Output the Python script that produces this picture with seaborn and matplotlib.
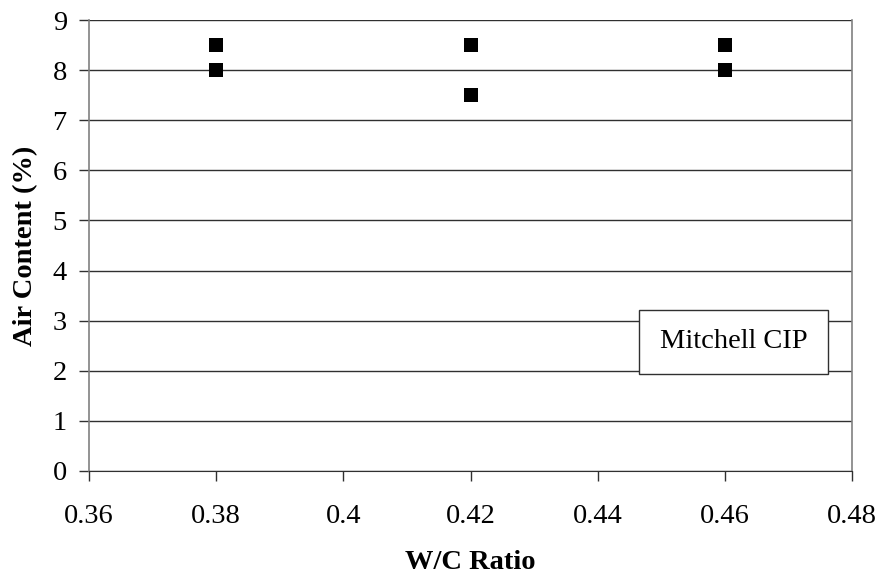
import matplotlib
matplotlib.use("Agg")
import matplotlib.pyplot as plt
from matplotlib.patches import Rectangle
import seaborn as sns
import pandas as pd

wc_ratio = [0.38, 0.38, 0.42, 0.42, 0.46, 0.46]
air_content = [8.5, 8.0, 8.5, 7.5, 8.5, 8.0]
x_ticks = [0.36, 0.38, 0.40, 0.42, 0.44, 0.46, 0.48]
x_tick_labels = ["0.36", "0.38", "0.4", "0.42", "0.44", "0.46", "0.48"]
y_ticks = [0, 1, 2, 3, 4, 5, 6, 7, 8, 9]

sns.set_style("white")
plt.rcParams['font.family'] = ['Liberation Serif', 'DejaVu Serif']
plt.rcParams['text.color'] = 'black'
plt.rcParams['axes.labelcolor'] = 'black'
plt.rcParams['xtick.color'] = 'black'
plt.rcParams['ytick.color'] = 'black'

df = pd.DataFrame({"wc": wc_ratio, "air": air_content})

FS = 20.5
fig = plt.figure(figsize=(8.81, 5.78), dpi=100)
ax = fig.add_axes([89/881, 1 - 471/578, (852 - 89)/881, (471 - 20)/578])

for y in y_ticks:
    ax.axhline(y, color="#303030", lw=1.0, zorder=1)

sns.scatterplot(data=df, x="wc", y="air", marker="s", s=105, color="black",
                edgecolor="black", linewidth=0, ax=ax, zorder=3, legend=False)

ax.set_xlim(0.36, 0.48)
ax.set_ylim(0, 9)
ax.set_xticks(x_ticks)
ax.set_xticklabels(x_tick_labels)
ax.set_yticks(y_ticks)
ax.tick_params(axis="both", labelsize=FS, direction="out", length=7, width=1,
               color="#303030", left=True, bottom=True, labelcolor="black")
ax.tick_params(axis="x", pad=17)
ax.tick_params(axis="y", pad=9)

for side in ["left", "right"]:
    ax.spines[side].set_color("#808080")
    ax.spines[side].set_linewidth(1.2)
ax.spines["top"].set_visible(False)
ax.spines["bottom"].set_color("#303030")

ax.set_xlabel("W/C Ratio", fontsize=FS, fontweight="bold", labelpad=15,
              color="black")
ax.set_ylabel("Air Content (%)", fontsize=FS, fontweight="bold", labelpad=10,
              color="black")

ax.add_patch(Rectangle((0.4465, 1.94), 0.4762 - 0.4465, 3.22 - 1.94,
                       facecolor="white", edgecolor="#303030", linewidth=1.0,
                       zorder=4))
ax.text(0.46135, 2.58, "Mitchell CIP", fontsize=FS, ha="center", va="center",
        color="black", zorder=5)

fig.savefig("out.png", dpi=100)
